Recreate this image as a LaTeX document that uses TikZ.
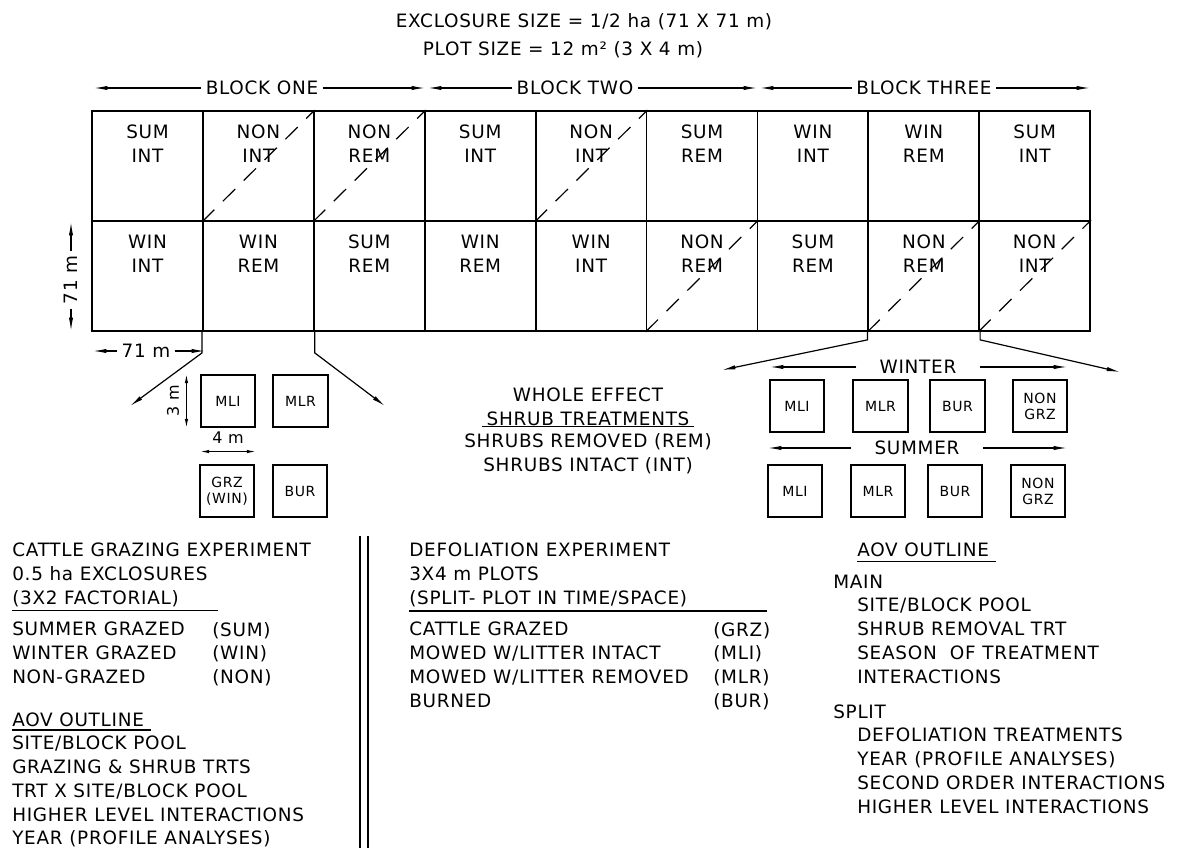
\documentclass[tikz,border=0pt]{standalone}
\usepackage{fontspec}
\newfontfamily\cadfont{DejaVu Sans}[LetterSpace=4]
\usetikzlibrary{arrows.meta,positioning}

\begin{document}
\begin{tikzpicture}[
  x=0.75pt, y=-0.75pt,
  font=\cadfont\fontsize{13.8}{17.8}\selectfont,
  cell/.style={draw, line width=1.3pt, minimum width=83.2pt, minimum height=82.5pt, inner sep=0pt,
    label={[celltxt]north:#1}},
  celltxt/.style={anchor=north, yshift=-11pt, inner sep=0pt, align=center},
  diag/.style={dash pattern=on 13pt off 9pt, line width=0.9pt},
  arr/.style={-{Latex[length=10pt,width=3.2pt]}, line width=0.9pt},
  dimarr/.style={{Latex[length=7pt,width=2.6pt]}-{Latex[length=7pt,width=2.6pt]}, line width=0.9pt},
  plotbox/.style={draw, line width=1.3pt, minimum width=41pt, minimum height=39.5pt, inner sep=1pt,
    align=center, font=\cadfont\fontsize{10.5}{12}\selectfont},
  dimtxt/.style={inner sep=2pt, font=\cadfont\fontsize{12}{13}\selectfont},
  txtblk/.style={anchor=north west, inner sep=0pt, align=left},
  uline/.style={line width=1pt}
]
\useasboundingbox (0,0) rectangle (1180,848);

% heading
\node (hdra) at (584,22) {EXCLOSURE SIZE = 1/2 ha (71 X 71 m)};
\node (hdrb) at (563,50) {PLOT SIZE = 12 m² (3 X 4 m)};

% blocks
\node (blk1) at (262,88) {BLOCK ONE};
\node (blk2) at (575,88) {BLOCK TWO};
\node (blk3) at (924,88) {BLOCK THREE};
\coordinate (blk1l) at (94,88);
\coordinate (blk1r) at (425,88);
\coordinate (blk2l) at (428,88);
\coordinate (blk2r) at (757,88);
\coordinate (blk3l) at (760,88);
\coordinate (blk3r) at (1090,88);
\draw[arr] (blk1.west) -- (blk1l);
\draw[arr] (blk1.east) -- (blk1r);
\draw[arr] (blk2.west) -- (blk2l);
\draw[arr] (blk2.east) -- (blk2r);
\draw[arr] (blk3.west) -- (blk3l);
\draw[arr] (blk3.east) -- (blk3r);

% exclosures, top row
\node[cell={SUM\\INT}] (a1) at (147.5,166) {};
\node[cell={NON\\INT}] (a2) at (258.4,166) {};
\node[cell={NON\\REM}] (a3) at (369.3,166) {};
\node[cell={SUM\\INT}] (a4) at (480.2,166) {};
\node[cell={NON\\INT}] (a5) at (591.1,166) {};
\node[cell={SUM\\REM}] (a6) at (702.0,166) {};
\node[cell={WIN\\INT}] (a7) at (812.9,166) {};
\node[cell={WIN\\REM}] (a8) at (923.8,166) {};
\node[cell={SUM\\INT}] (a9) at (1034.7,166) {};
% exclosures, bottom row
\node[cell={WIN\\INT}] (b1) at (147.5,276) {};
\node[cell={WIN\\REM}] (b2) at (258.4,276) {};
\node[cell={SUM\\REM}] (b3) at (369.3,276) {};
\node[cell={WIN\\REM}] (b4) at (480.2,276) {};
\node[cell={WIN\\INT}] (b5) at (591.1,276) {};
\node[cell={NON\\REM}] (b6) at (702.0,276) {};
\node[cell={SUM\\REM}] (b7) at (812.9,276) {};
\node[cell={NON\\REM}] (b8) at (923.8,276) {};
\node[cell={NON\\INT}] (b9) at (1034.7,276) {};

\draw[diag] (a2.south west) -- (a2.north east);
\draw[diag] (a3.south west) -- (a3.north east);
\draw[diag] (a5.south west) -- (a5.north east);
\draw[diag] (b6.south west) -- (b6.north east);
\draw[diag] (b8.south west) -- (b8.north east);
\draw[diag] (b9.south west) -- (b9.north east);

% exclosure dimensions
\node[rotate=90, inner sep=3pt] (dimv) at (71,280) {71 m};
\coordinate (dimvt) at (71,222);
\coordinate (dimvb) at (71,331);
\draw[arr] (dimv.east) -- (dimvt);
\draw[arr] (dimv.west) -- (dimvb);
\node[inner sep=3pt] (dimh) at (146,351) {71 m};
\coordinate (dimhl) at (93,351);
\coordinate (dimhr) at (205,351);
\draw[arr] (dimh.west) -- (dimhl);
\draw[arr] (dimh.east) -- (dimhr);

% breakout arrows
\coordinate (bol) at (130,406);
\coordinate (bor) at (385,406);
\draw[arr] (b2.south west) -- ++(0,21) -- (bol);
\draw[arr] (b2.south east) -- ++(0,21) -- (bor);
\coordinate (brl) at (722,370);
\coordinate (brr) at (1120,372);
\draw[arr] (b8.south west) -- ++(0,8) -- (brl);
\draw[arr] (b8.south east) -- ++(0,8) -- (brr);

% cattle plots
\node[plotbox] (lmli) at (228,401) {MLI};
\node[plotbox] (lmlr) at (300.5,401) {MLR};
\node[plotbox] (lgrz) at (227,491) {GRZ\\(WIN)};
\node[plotbox] (lbur) at (300,491) {BUR};
\draw[dimarr] ([xshift=-10pt]lmli.north west) -- ([xshift=-10pt]lmli.south west);
\node[dimtxt, rotate=90] (dim3) at (173,401) {3 m};
\node[dimtxt] (dim4) at (228,438) {4 m};
\draw[dimarr] ([yshift=-17.5pt]lmli.south west) -- ([yshift=-17.5pt]lmli.south east);

% whole effect
\node[align=center] (whole) at (588,407) {WHOLE EFFECT\\SHRUB TREATMENTS};
\draw[uline] ([yshift=3pt]whole.south west) -- ([yshift=3pt]whole.south east);
\node[align=center] (shrubs) at (588,453.5) {SHRUBS REMOVED (REM)\\SHRUBS INTACT (INT)};

% season plots
\node (winter) at (918,367) {WINTER};
\draw[arr] ([xshift=-14pt]winter.west) -- (770,367);
\draw[arr] ([xshift=14pt]winter.east) -- (1067,367);
\node[plotbox] (wmli) at (797,406) {MLI};
\node[plotbox] (wmlr) at (880.5,406) {MLR};
\node[plotbox] (wbur) at (957.5,406) {BUR};
\node[plotbox] (wnon) at (1040,406) {NON\\GRZ};
\node (summer) at (917,448) {SUMMER};
\draw[arr] ([xshift=-14pt]summer.west) -- (768,448);
\draw[arr] ([xshift=14pt]summer.east) -- (1067,448);
\node[plotbox] (smli) at (795,491) {MLI};
\node[plotbox] (smlr) at (878,491) {MLR};
\node[plotbox] (sbur) at (955,491) {BUR};
\node[plotbox] (snon) at (1038,491) {NON\\GRZ};

% cattle grazing experiment
\node[txtblk] (cgexp) at (12,543) {CATTLE GRAZING EXPERIMENT\\0.5 ha EXCLOSURES\\(3X2 FACTORIAL)};
\draw[uline] ([yshift=-2.5pt]cgexp.south west) -- ++(206,0);
\node[txtblk] (cgtrt) at (12,622) {SUMMER GRAZED\\WINTER GRAZED\\NON-GRAZED};
\node[txtblk] (cgcode) at (212,622) {(SUM)\\(WIN)\\(NON)};
\node[txtblk] (cgaov) at (12,713) {AOV OUTLINE};
\draw[uline, shorten >=-5pt] ([yshift=-2pt]cgaov.south west) -- ([yshift=-2pt]cgaov.south east);
\node[txtblk] (cglist) at (12,736) {SITE/BLOCK POOL\\GRAZING \& SHRUB TRTS\\TRT X SITE/BLOCK POOL\\HIGHER LEVEL INTERACTIONS\\YEAR (PROFILE ANALYSES)};

\draw[line width=1pt] (360,536) -- (360,848);
\draw[line width=1pt] (368,536) -- (368,848);

% defoliation experiment
\node[txtblk] (dfexp) at (409,543) {DEFOLIATION EXPERIMENT\\3X4 m PLOTS\\(SPLIT- PLOT IN TIME/SPACE)};
\draw[uline] ([yshift=-3pt]dfexp.south west) -- ++(358,0);
\node[txtblk] (dftrt) at (409,622) {CATTLE GRAZED\\MOWED W/LITTER INTACT\\MOWED W/LITTER REMOVED\\BURNED};
\node[txtblk] (dfcode) at (713,622) {(GRZ)\\(MLI)\\(MLR)\\(BUR)};

% aov outline
\node[txtblk] (raov) at (857,543) {AOV OUTLINE};
\draw[uline, shorten >=-5pt] ([yshift=-3pt]raov.south west) -- ([yshift=-3pt]raov.south east);
\node[txtblk] (rmain) at (833,575) {MAIN};
\node[txtblk] (rmainl) at (857,598) {SITE/BLOCK POOL\\SHRUB REMOVAL TRT\\SEASON\ \ OF TREATMENT\\INTERACTIONS};
\node[txtblk] (rsplit) at (833,705) {SPLIT};
\node[txtblk] (rsplitl) at (857,728) {DEFOLIATION TREATMENTS\\YEAR (PROFILE ANALYSES)\\SECOND ORDER INTERACTIONS\\HIGHER LEVEL INTERACTIONS};

\end{tikzpicture}
\end{document}
